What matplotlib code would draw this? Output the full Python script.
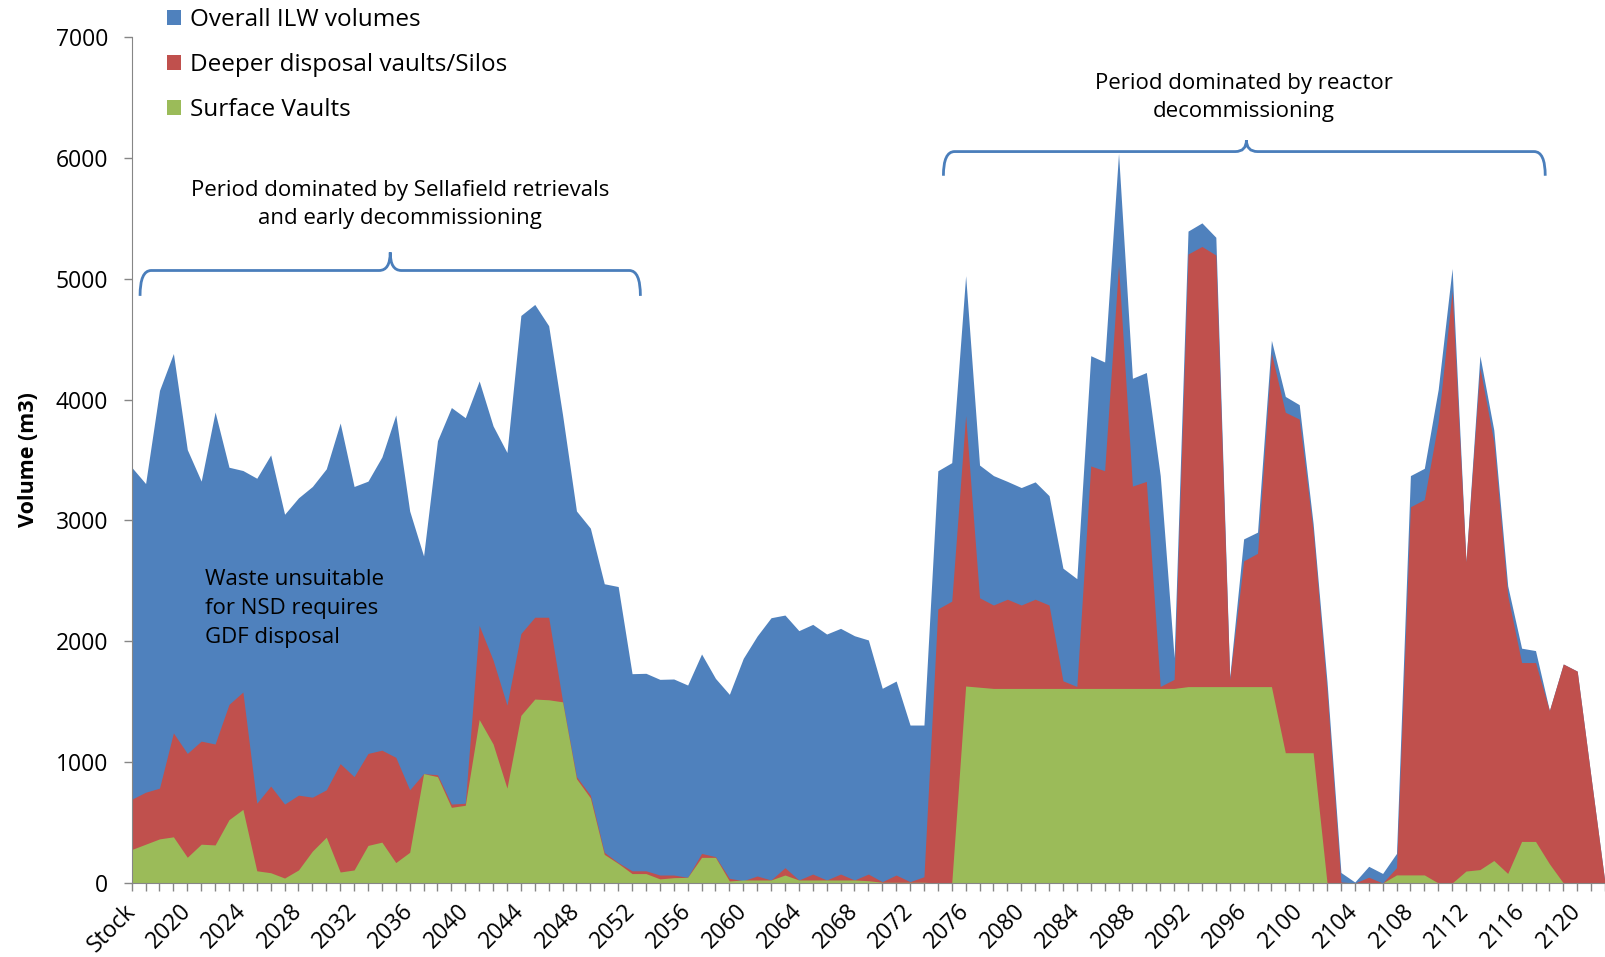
import matplotlib
matplotlib.use('Agg')
import matplotlib.pyplot as plt
from matplotlib.patches import Patch, PathPatch
from matplotlib.path import Path
import numpy as np

plt.rcParams['font.family'] = ['Open Sans', 'DejaVu Sans']

# categories: stock then years 2017-2122
years = ['Stock'] + [str(y) for y in range(2017, 2123)]

overall = [3440, 3305, 4076, 4381, 3586, 3325, 3897, 3440, 3413, 3349,
           3542, 3051, 3187, 3281, 3427, 3806, 3281, 3325, 3525, 3873,
           3078, 2706, 3660, 3934, 3850, 4154, 3782, 3562, 4696, 4787,
           4611, 3873, 3078, 2936, 2476, 2453, 1732, 1735, 1685, 1688,
           1638, 1895, 1693, 1561, 1859, 2044, 2195, 2217, 2088, 2140,
           2060, 2107, 2046, 2011, 1611, 1671, 1307, 1307, 3411, 3478,
           5025, 3458, 3371, 3323, 3272, 3319, 3205, 2605, 2518, 4363,
           4311, 6037, 4176, 4224, 3371, 1864, 5394, 5462, 5343, 1705,
           2847, 2903, 4490, 4026, 3958, 2974, 1665, 87, 8, 138,
           79, 245, 3371, 3431, 4085, 5085, 2657, 4363, 3748, 2459,
           1943, 1923, 1427, 1812, 1753, 872, 0]

deeper = [693, 751, 785, 1242, 1072, 1174, 1150, 1478, 1580, 660,
          802, 653, 727, 710, 771, 988, 880, 1072, 1099, 1040,
          771, 905, 896, 653, 660, 2131, 1844, 1472, 2064, 2199,
          2199, 1505, 880, 727, 254, 169, 101, 101, 66, 66,
          47, 245, 218, 39, 19, 58, 25, 127, 25, 74,
          25, 74, 25, 74, 11, 66, 11, 52, 2268, 2332,
          3867, 2360, 2300, 2348, 2300, 2348, 2300, 1673, 1626, 3451,
          3411, 5109, 3284, 3323, 1626, 1685, 5204, 5267, 5196, 1685,
          2665, 2728, 4383, 3895, 3839, 2915, 1586, 8, 0, 48,
          0, 127, 3113, 3173, 3815, 4898, 2657, 4264, 3649, 2380,
          1824, 1824, 1427, 1812, 1753, 872, 0]

surface = [277, 321, 365, 382, 213, 321, 315, 524, 609, 101,
           85, 41, 108, 264, 379, 91, 108, 311, 338, 169,
           254, 905, 880, 626, 643, 1353, 1150, 785, 1387, 1522,
           1516, 1499, 863, 704, 237, 162, 78, 78, 34, 44,
           47, 212, 212, 17, 25, 25, 25, 66, 25, 25,
           25, 25, 25, 19, 6, 6, 6, 6, 0, 0,
           1630, 1620, 1610, 1610, 1610, 1610, 1610, 1610, 1610, 1610,
           1610, 1610, 1610, 1610, 1610, 1610, 1625, 1625, 1625, 1625,
           1625, 1625, 1625, 1078, 1078, 1078, 0, 0, 0, 0,
           0, 67, 67, 67, 0, 0, 99, 111, 186, 79,
           344, 344, 159, 0, 0, 0, 0]

series_names = ['Overall ILW volumes', 'Deeper disposal vaults/Silos', 'Surface Vaults']
colors = ['#4F81BD', '#C0504D', '#9BBB59']
axis_grey = '#868686'
brace_col = '#4A7EBB'

x = np.arange(len(years))

fig = plt.figure(figsize=(16.06, 9.57), dpi=100)
ax = fig.add_axes([131.7 / 1606, 1 - 883 / 957, (1605 - 131.7) / 1606, (883 - 37) / 957])

for vals, col in zip([overall, deeper, surface], colors):
    ax.fill_between(x, vals, 0, color=col, linewidth=0)

ax.set_xlim(0, len(years) - 1)
ax.set_ylim(0, 7000)
ax.set_yticks(range(0, 7001, 1000))
ax.set_xticks(x, minor=True)
ax.set_xticks(x[::4], [years[i] for i in x[::4]])
for lab in ax.get_xticklabels():
    lab.set_rotation(45)
    lab.set_ha('right')
    lab.set_va('center')
    lab.set_rotation_mode('anchor')

ax.tick_params(axis='both', which='both', direction='out', color=axis_grey, length=6, width=1)
ax.tick_params(axis='x', labelsize=16.5, pad=12)
ax.tick_params(axis='y', labelsize=16.5, pad=11)
for s in ['top', 'right']:
    ax.spines[s].set_visible(False)
for s in ['left', 'bottom']:
    ax.spines[s].set_color(axis_grey)

ax.set_ylabel('Volume (m3)', fontsize=15.5, fontweight='bold')
ax.yaxis.set_label_coords(-0.063, 0.5)


def brace(x0, x1, xm, y, drop, rise, r=0.8):
    verts = [(x0, y - drop), (x0, y), (x0 + r, y),
             (xm - r, y), (xm, y), (xm, y + rise),
             (xm, y), (xm + r, y),
             (x1 - r, y), (x1, y), (x1, y - drop)]
    codes = [Path.MOVETO, Path.CURVE3, Path.CURVE3,
             Path.LINETO, Path.CURVE3, Path.CURVE3,
             Path.CURVE3, Path.CURVE3,
             Path.LINETO, Path.CURVE3, Path.CURVE3]
    ax.add_patch(PathPatch(Path(verts, codes), fill=False, edgecolor=brace_col,
                           linewidth=2, clip_on=False))


brace(0.6, 36.6, 18.6, 5068, 210, 150)
brace(58.4, 101.7, 80.2, 6052, 200, 95)

ax.text(19.3, 5615, 'Period dominated by Sellafield retrievals\nand early decommissioning',
        ha='center', va='center', fontsize=16, linespacing=1.48)
ax.text(80.0, 6500, 'Period dominated by reactor\ndecommissioning',
        ha='center', va='center', fontsize=16, linespacing=1.48)
ax.text(5.3, 2270, 'Waste unsuitable\nfor NSD requires\nGDF disposal',
        ha='left', va='center', fontsize=16, linespacing=1.48)

handles = [Patch(facecolor=c, edgecolor='none') for c in colors]
ax.legend(handles, series_names, loc='upper left', bbox_to_anchor=(167 / 1606, 1 - 8 / 957),
          bbox_transform=fig.transFigure, frameon=False, fontsize=17.5,
          handlelength=0.56, handleheight=0.56, handletextpad=0.4,
          labelspacing=0.86, borderpad=0, borderaxespad=0)

fig.savefig('out.png', dpi=100)
